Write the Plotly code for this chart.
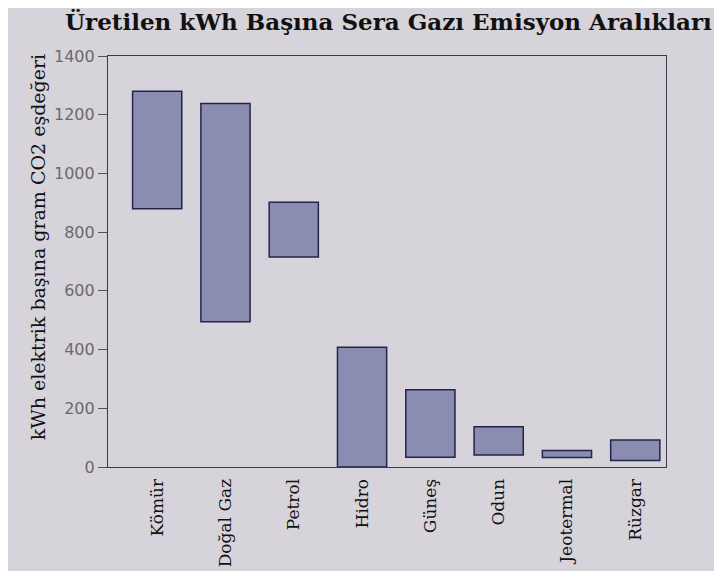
import plotly.graph_objects as go

# kaynak bazinda emisyon araliklari (g CO2 esdegeri / kWh)
kaynaklar = ['Kömür', 'Doğal Gaz', 'Petrol', 'Hidro', 'Güneş', 'Odun', 'Jeotermal', 'Rüzgar']
alt_sinir = [880, 495, 715, 0, 33, 41, 32, 22]
ust_sinir = [1280, 1238, 902, 408, 263, 137, 56, 92]

y_ticks = [0, 200, 400, 600, 800, 1000, 1200, 1400]

bg = '#d7d3db'
bar_fill = '#8a8db0'
bar_line = '#23234f'


def plot_graph():
    yukseklik = [u - a for u, a in zip(ust_sinir, alt_sinir)]

    fig = go.Figure(go.Bar(
        x=kaynaklar,
        y=yukseklik,
        base=alt_sinir,
        width=0.72,
        marker=dict(color=bar_fill, line=dict(color=bar_line, width=1.5)),
        hoverinfo='skip',
    ))

    # sayfa govdesi 8px kaydirdigi icin kenar boslugu buna gore
    fig.update_layout(
        width=722, height=571,
        paper_bgcolor=bg, plot_bgcolor=bg,
        margin=dict(l=100, r=64, t=48, b=112),
        showlegend=False,
        title=dict(
            text='<b>Üretilen kWh Başına Sera Gazı Emisyon Aralıkları</b>',
            font=dict(family='DejaVu Serif', size=23, color='#111111'),
            x=0.079, xref='container', xanchor='left',
            y=0.975, yref='container', yanchor='middle',
        ),
    )

    # y ekseni basligi (biraz yukarida duruyor)
    fig.add_annotation(
        text='kWh elektrik başına gram CO2 eşdeğeri',
        font=dict(family='DejaVu Serif', size=19, color='#111111'),
        textangle=-90, showarrow=False,
        xref='paper', yref='paper', x=-0.125, y=0.535,
        xanchor='center', yanchor='middle',
    )

    fig.update_xaxes(
        range=[-0.72, 7.45],
        tickangle=-90,
        tickfont=dict(family='DejaVu Serif', size=17, color='#111111'),
        ticklabelstandoff=4,
        showline=True, linecolor='#3a3a4a', linewidth=1.2, mirror=True,
        ticks='', showgrid=False,
    )

    fig.update_yaxes(
        range=[0, 1400],
        tickvals=y_ticks,
        tickfont=dict(family='DejaVu Sans', size=16, color='#6a6a6a'),
        ticks='outside', ticklen=9, tickcolor='#555555',
        showline=True, linecolor='#3a3a4a', linewidth=1.2, mirror=True,
        showgrid=False, zeroline=False,
    )

    fig.write_html('out.html')


if __name__ == '__main__':
    plot_graph()
